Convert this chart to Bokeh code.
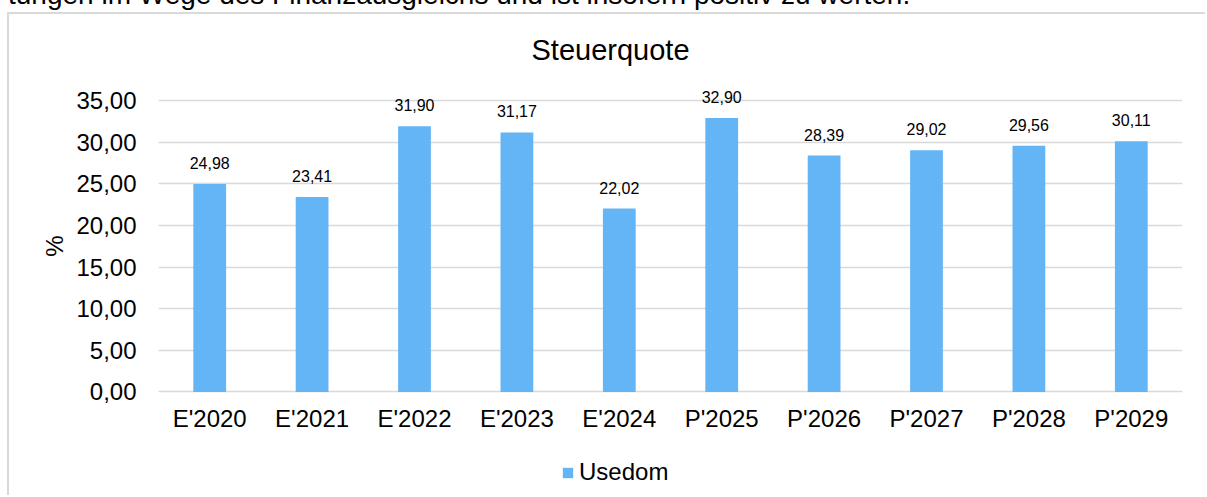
from bokeh.plotting import figure
from bokeh.models import (FactorRange, Range1d, ColumnDataSource, Label, Legend, LegendItem,
                          FixedTicker, CustomJSTickFormatter, Div, Title)
from bokeh.layouts import column
from bokeh.embed import file_html
from bokeh.resources import INLINE
from bokeh.core.properties import value

# ---- data ----
categories = ["E'2020", "E'2021", "E'2022", "E'2023", "E'2024",
              "P'2025", "P'2026", "P'2027", "P'2028", "P'2029"]
steuerquote = [24.98, 23.41, 31.90, 31.17, 22.02, 32.90, 28.39, 29.02, 29.56, 30.11]
series_name = "Usedom"
title_text = "Steuerquote"
y_axis_label = "%"
y_ticks = [0, 5, 10, 15, 20, 25, 30, 35]
intro_text = "tungen im Wege des Finanzausgleichs und ist insofern positiv zu werten."

labels = [f"{v:.2f}".replace(".", ",") for v in steuerquote]
source = ColumnDataSource(dict(cat=categories, val=steuerquote, lab=labels,
                               base=[0] * len(categories)))

FONT = "Liberation Sans"
BAR = "#64b5f6"
GRID = "#d9d9d9"

# the plot frame spans the whole canvas height so that title, legend and
# category labels (drawn inside it) are not clipped
p = figure(x_range=FactorRange(factors=categories), y_range=Range1d(-12.67, 45.33),
           width=1198, height=483, output_backend="svg", toolbar_location=None,
           x_axis_location=None,
           min_border_left=149, min_border_right=25, min_border_top=0, min_border_bottom=0,
           outline_line_color=None, background_fill_color="white", border_fill_color="white",
           margin=(0, 0, 0, 7),
           styles={"border-top": f"2px solid {GRID}", "border-left": f"2px solid {GRID}"})

for g in p.grid:
    if g.dimension == 0:
        g.grid_line_color = None

r = p.vbar(x="cat", top="val", width=0.32, source=source, fill_color=BAR, line_color=None)
p.text(x="cat", y="val", text="lab", source=source, text_align="center",
       text_baseline="alphabetic", y_offset=-21, text_font=value(FONT),
       text_font_size="16px", text_color="black")
# category labels under the 0 line
p.text(x="cat", y="base", text="cat", source=source, text_align="center",
       text_baseline="alphabetic", y_offset=27, text_font=value(FONT),
       text_font_size="24px", text_color="black")

# y axis
ya = p.yaxis[0]
ya.ticker = FixedTicker(ticks=y_ticks)
ya.formatter = CustomJSTickFormatter(code="return tick.toFixed(2).replace('.', ',');")
ya.axis_line_color = None
ya.major_tick_line_color = None
ya.minor_tick_line_color = None
ya.major_tick_out = 0
ya.major_tick_in = 0
ya.major_label_text_font = FONT
ya.major_label_text_font_size = "24px"
ya.major_label_text_color = "black"
ya.major_label_standoff = 22
for g in p.grid:
    if g.dimension == 1:
        g.grid_line_color = GRID
        g.grid_line_width = 1.5

# y axis title, placed in the left panel
p.add_layout(Title(text=y_axis_label, align="right", offset=221, standoff=12,
                   text_font=FONT, text_font_size="24px", text_font_style="normal",
                   text_color="black"), "left")

# chart title
p.add_layout(Label(x=452, y=448, x_units="screen", y_units="screen", text=title_text,
                   text_align="center", text_baseline="alphabetic", text_font=FONT,
                   text_font_size="29px", text_color="black"))

legend = Legend(items=[LegendItem(label=series_name, renderers=[r])], location=(403, 11),
                orientation="horizontal", margin=0, padding=0, border_line_color=None,
                background_fill_alpha=0, glyph_width=13, glyph_height=13, label_standoff=5,
                label_text_font=FONT, label_text_font_size="24px", label_text_color="black")
p.add_layout(legend, "center")

intro = Div(text=intro_text, width=1199, height=31, margin=(-19, 0, 0, 8),
            styles={"font-family": "'Liberation Sans', Arial, sans-serif", "font-size": "28px",
                    "line-height": "28px", "white-space": "nowrap", "color": "black"})

layout = column(intro, p, spacing=0)

open("out.html", "w").write(file_html(layout, INLINE))
